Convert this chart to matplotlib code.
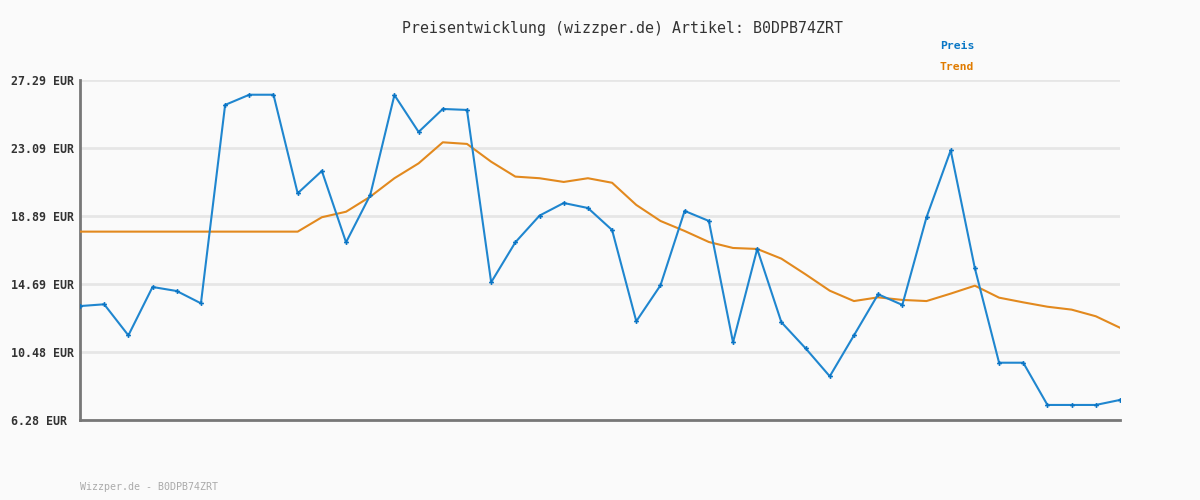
import matplotlib
matplotlib.use("Agg")
import matplotlib.pyplot as plt
import numpy as np

# Preis (blue) und Trend (orange), one value per day
preis = [13.32, 13.43, 11.51, 14.50, 14.25, 13.49, 25.75, 26.38, 26.38, 20.29,
         21.67, 17.26, 20.18, 26.36, 24.08, 25.50, 25.44, 14.79, 17.26, 18.91,
         19.69, 19.38, 18.02, 12.38, 14.60, 19.20, 18.58, 11.08, 16.85, 12.32,
         10.71, 8.98, 11.51, 14.05, 13.39, 18.81, 22.94, 15.65, 9.82, 9.82,
         7.21, 7.21, 7.21, 7.52]
trend = [17.92, 17.92, 17.92, 17.92, 17.92, 17.92, 17.92, 17.92, 17.92, 17.92,
         18.81, 19.15, 20.08, 21.22, 22.14, 23.44, 23.34, 22.24, 21.32, 21.22,
         20.99, 21.22, 20.94, 19.57, 18.58, 17.96, 17.28, 16.91, 16.85, 16.25,
         15.28, 14.27, 13.63, 13.86, 13.70, 13.63, 14.09, 14.58, 13.84, 13.55,
         13.28, 13.10, 12.69, 11.98]
y_ticks = [6.28, 10.48, 14.69, 18.89, 23.09, 27.29]

bg = "#fafafa"
blue = "#1f86cf"
orange = "#e2891e"
mono = "DejaVu Sans Mono"

fig = plt.figure(figsize=(12, 5), dpi=100, facecolor=bg)
ax = fig.add_axes([80 / 1200, 0.16, 1040 / 1200, 0.68], facecolor=bg)

x = np.arange(len(preis))
ax.plot(x, trend, color=orange, lw=1.5, zorder=3)
ax.plot(x, preis, color=blue, lw=1.5, marker="P", markersize=3.5,
        markeredgewidth=0, markerfacecolor="#0a74c4", zorder=4)

ax.set_xlim(0, len(preis) - 1)
ax.set_ylim(y_ticks[0], y_ticks[-1])
ax.set_xticks([])
ax.set_yticks(y_ticks)
ax.set_yticklabels([f"{v:.2f} EUR" for v in y_ticks], family=mono,
                   fontsize=8.4, fontweight="bold", color="#333333", ha="left")
ax.tick_params(axis="y", length=0, pad=50)
ax.grid(axis="y", color="#e6e6e6", lw=2)
ax.set_axisbelow(True)

for s in ["top", "right"]:
    ax.spines[s].set_visible(False)
for s in ["left", "bottom"]:
    ax.spines[s].set_color("#777777")
    ax.spines[s].set_linewidth(2)

fig.text(623 / 1200, 1 - 28 / 500, "Preisentwicklung (wizzper.de) Artikel: B0DPB74ZRT",
         family=mono, fontsize=10.7, color="#333333", ha="center", va="center")
fig.text(940 / 1200, 1 - 46 / 500, "Preis", family=mono, fontsize=8.2,
         fontweight="bold", color="#0a77c5", ha="left", va="center")
fig.text(940 / 1200, 1 - 67 / 500, "Trend", family=mono, fontsize=8.2,
         fontweight="bold", color="#e07b00", ha="left", va="center")
fig.text(80 / 1200, 1 - 487 / 500, "Wizzper.de - B0DPB74ZRT", family=mono,
         fontsize=7.2, color="#aaaaaa", ha="left", va="center")

fig.savefig("out.png", dpi=100, facecolor=bg)
